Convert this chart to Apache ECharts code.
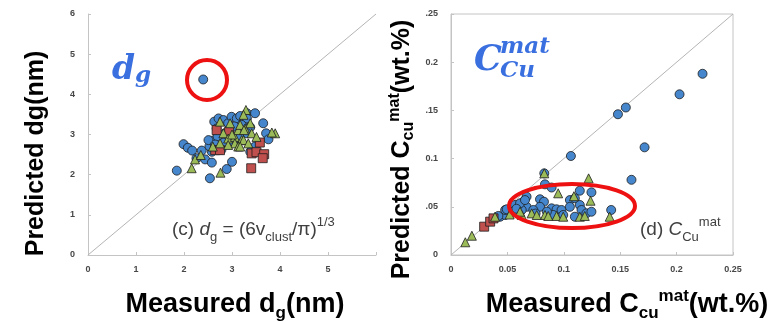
<!DOCTYPE html>
<html>
<head>
<meta charset="utf-8">
<script src="https://cdn.jsdelivr.net/npm/echarts@6/dist/echarts.min.js"></script>
<style>
  html, body { margin: 0; padding: 0; background: #fff; }
  #chart { width: 771px; height: 322px; }
</style>
</head>
<body>
<div id="chart"></div>
<script>
// (c) d_g panel: [measured, predicted] in nm
const dgBlue = [
  [2.40, 4.37],
  [1.85, 2.10], [1.99, 2.76], [2.08, 2.67], [2.17, 2.60], [2.37, 2.60], [2.26, 2.41],
  [2.44, 2.38], [2.58, 2.30], [2.54, 1.91], [2.89, 2.14], [3.00, 2.32], [2.58, 2.57],
  [2.53, 2.71], [2.61, 2.85], [2.63, 3.32], [2.72, 3.40], [2.68, 3.15], [2.82, 3.36],
  [2.92, 3.28], [2.99, 3.44], [3.10, 3.40], [3.17, 3.46], [3.27, 3.36], [3.31, 3.53],
  [2.51, 2.86], [2.82, 2.80], [3.03, 2.82], [2.85, 3.03], [3.48, 3.53], [3.31, 3.40],
  [3.65, 3.28], [3.20, 3.24], [3.38, 3.18], [3.71, 3.03], [3.76, 2.88], [3.31, 3.03],
  [3.48, 2.70], [3.38, 2.57], [2.70, 2.95], [2.95, 3.10], [3.05, 3.20], [2.78, 2.62],
  [3.15, 2.95], [2.65, 2.75]
];
const dgRed = [
  [2.68, 3.11], [2.94, 3.07], [2.65, 2.61], [2.75, 2.61], [3.58, 2.80],
  [3.41, 2.53], [3.51, 2.56], [3.67, 2.51], [3.64, 2.41], [3.40, 2.16]
];
const dgGreen = [
  [2.16, 2.16], [2.76, 2.05], [2.23, 2.38], [2.35, 2.49], [2.75, 3.32], [2.96, 3.28],
  [2.82, 3.03], [2.75, 2.78], [2.92, 2.90], [3.06, 2.94], [3.13, 3.11], [3.06, 2.78],
  [3.20, 2.86], [3.17, 3.24], [3.27, 3.15], [2.92, 2.74], [3.13, 2.70], [3.29, 3.61],
  [3.90, 3.03], [3.83, 3.05], [3.24, 3.49], [3.38, 3.28], [3.25, 3.11], [3.41, 3.03],
  [3.24, 2.86], [3.34, 2.78], [3.51, 2.94], [3.17, 2.70], [2.60, 2.70], [3.00, 3.00]
];
const dgDiagonal = [[0, 0], [6, 6]];
const dgXTicks = ['0', '1', '2', '3', '4', '5', ''];
const dgYTicks = ['0', '1', '2', '3', '4', '5', '6'];

// (d) C_Cu^mat panel: [measured, predicted] in wt.%
const cuBlue = [
  [0.223, 0.188], [0.2026, 0.1667], [0.1716, 0.1117], [0.160, 0.078], [0.148, 0.146],
  [0.155, 0.153], [0.1063, 0.1027], [0.0827, 0.0847], [0.0833, 0.0733], [0.0892, 0.070],
  [0.1142, 0.0667], [0.1245, 0.065], [0.1054, 0.057], [0.1098, 0.0588], [0.0789, 0.0578],
  [0.0824, 0.0553], [0.067, 0.0605], [0.0642, 0.0553], [0.067, 0.050], [0.0789, 0.050],
  [0.0892, 0.0484], [0.0936, 0.0474], [0.098, 0.0467], [0.0906, 0.0415], [0.0995, 0.0415],
  [0.1054, 0.050], [0.1142, 0.0519], [0.1157, 0.0467], [0.120, 0.0432], [0.1245, 0.0449],
  [0.1098, 0.0397], [0.142, 0.0467], [0.073, 0.0467], [0.0627, 0.0467], [0.0435, 0.0397],
  [0.048, 0.0415], [0.048, 0.0467], [0.042, 0.0405], [0.0494, 0.0474], [0.0553, 0.0449],
  [0.0568, 0.0519], [0.0612, 0.0536], [0.0656, 0.057], [0.058, 0.048], [0.085, 0.045],
  [0.075, 0.043]
];
const cuGreen = [
  [0.0127, 0.0132], [0.0185, 0.020], [0.039, 0.0397], [0.0827, 0.0847], [0.122, 0.0795],
  [0.095, 0.064], [0.109, 0.061], [0.1237, 0.0563], [0.1407, 0.0397], [0.0715, 0.0432],
  [0.0833, 0.0415], [0.0862, 0.0405], [0.0936, 0.0405], [0.0995, 0.0397], [0.1142, 0.0397],
  [0.1186, 0.0405], [0.0627, 0.0415], [0.076, 0.0415], [0.0612, 0.0449], [0.052, 0.042]
];
const cuRed = [[0.0294, 0.0294], [0.0347, 0.0346], [0.0377, 0.038]];
const cuDiagonal = [[0, 0], [0.25, 0.25]];
const cuXTicks = ['0', '0.05', '0.1', '0.15', '0.2', '0.25'];
const cuYTicks = ['0', '.05', '0.1', '.15', '0.2', '.25'];

const BLUE = '#4586cc', RED = '#c0504d', GREEN = '#9bbb59';
const AXIS_GRAY = '#c4c4c4';
const SANS = '"Liberation Sans", Arial, sans-serif';
const SERIF = '"DejaVu Serif", serif';
const NOTE = '#404040';
const SYMBOL_BLUE = '#3a6fe0';

const tickLabel = {
  color: '#474747', fontSize: 9, fontWeight: 'bold', fontFamily: SANS
};

function axisBase(extra) {
  return Object.assign({
    type: 'value',
    splitLine: { show: false },
    axisLine: { show: true, lineStyle: { color: AXIS_GRAY, width: 1 } },
    axisTick: { show: true, inside: true, length: 3, lineStyle: { color: AXIS_GRAY } }
  }, extra);
}

const titleRich = {
  m: { fontSize: 27, fontWeight: 'bold', fontFamily: SANS, color: '#000', lineHeight: 34 },
  sub: { fontSize: 17, fontWeight: 'bold', fontFamily: SANS, color: '#000', lineHeight: 16, verticalAlign: 'bottom' },
  sup: { fontSize: 17, fontWeight: 'bold', fontFamily: SANS, color: '#000', lineHeight: 16, verticalAlign: 'top' }
};
const vTitleRich = {
  m: { fontSize: 25, fontWeight: 'bold', fontFamily: SANS, color: '#000', lineHeight: 30 },
  sub: { fontSize: 16, fontWeight: 'bold', fontFamily: SANS, color: '#000', lineHeight: 14, verticalAlign: 'bottom' },
  sup: { fontSize: 16, fontWeight: 'bold', fontFamily: SANS, color: '#000', lineHeight: 14, verticalAlign: 'top' }
};
const captionRich = {
  t: { fontSize: 19, fontFamily: SANS, fill: NOTE, lineHeight: 28 },
  i: { fontSize: 19, fontFamily: SANS, fontStyle: 'italic', fill: NOTE, lineHeight: 28 },
  s: { fontSize: 13, fontFamily: SANS, fill: NOTE, lineHeight: 12, verticalAlign: 'bottom' },
  p: { fontSize: 13, fontFamily: SANS, fill: NOTE, lineHeight: 12, verticalAlign: 'top' }
};

function scatter(name, data, symbol, color, xi, size) {
  return {
    name: name, type: 'scatter', xAxisIndex: xi, yAxisIndex: xi,
    data: data, symbol: symbol, symbolSize: size,
    itemStyle: { color: color, borderColor: '#1e1e1e', borderWidth: 0.8, opacity: 1 },
    z: 3
  };
}
function diagonal(data, xi) {
  return {
    type: 'line', xAxisIndex: xi, yAxisIndex: xi, data: data,
    symbol: 'none', silent: true, z: 1,
    lineStyle: { color: '#b4b4b4', width: 1 }
  };
}

const chart = echarts.init(document.getElementById('chart'));
chart.setOption({
  backgroundColor: '#fff',
  animation: false,
  grid: [
    { left: 88, top: 14, width: 288, height: 241, outerBoundsMode: 'none', containLabel: false },
    { left: 451, top: 14, width: 282, height: 241, outerBoundsMode: 'none', containLabel: false,
      show: true, borderColor: AXIS_GRAY, borderWidth: 1 }
  ],
  xAxis: [
    axisBase({
      gridIndex: 0, min: 0, max: 6, interval: 1,
      axisLabel: Object.assign({ margin: 10, formatter: (v) => dgXTicks[Math.round(v)] }, tickLabel),
      name: '{m|Measured d}{sub|g}{m|(nm)}', nameLocation: 'middle', nameGap: 33,
      nameTextStyle: { rich: titleRich, padding: [0, 0, 0, 6] }
    }),
    axisBase({
      gridIndex: 1, min: 0, max: 0.25, interval: 0.05,
      axisLabel: Object.assign({ margin: 10, formatter: (v) => cuXTicks[Math.round(v / 0.05)] }, tickLabel),
      name: '{m|Measured C}{sub|cu}{sup|mat}{m|(wt.%)}', nameLocation: 'middle', nameGap: 33,
      nameTextStyle: { rich: titleRich, padding: [0, 0, 0, 70] }
    })
  ],
  yAxis: [
    axisBase({
      gridIndex: 0, min: 0, max: 6, interval: 1,
      axisLabel: Object.assign({ margin: 13, formatter: (v) => dgYTicks[Math.round(v)] }, tickLabel),
      name: '{m|Predicted dg(nm)}', nameLocation: 'middle', nameGap: 37, nameRotate: 90,
      nameTextStyle: { rich: vTitleRich, padding: [0, 38, 0, 0] }
    }),
    axisBase({
      gridIndex: 1, min: 0, max: 0.25, interval: 0.05,
      axisLabel: Object.assign({ margin: 13, formatter: (v) => cuYTicks[Math.round(v / 0.05)] }, tickLabel),
      name: '{m|Predicted C}{sub|cu}{sup|mat}{m|(wt.%)}', nameLocation: 'middle', nameGap: 34, nameRotate: 90,
      nameTextStyle: { rich: vTitleRich, padding: [0, 30, 0, 0] }
    })
  ],
  series: [
    diagonal(dgDiagonal, 0),
    scatter('blue', dgBlue, 'circle', BLUE, 0, 9),
    scatter('red', dgRed, 'rect', RED, 0, 9),
    scatter('green', dgGreen, 'triangle', GREEN, 0, 9),
    diagonal(cuDiagonal, 1),
    scatter('blue', cuBlue, 'circle', BLUE, 1, 9),
    scatter('red', cuRed, 'rect', RED, 1, 9),
    scatter('green', cuGreen, 'triangle', GREEN, 1, 9)
  ],
  graphic: [
    // red highlight around the outlier and the under-predicted cluster
    { type: 'circle', shape: { cx: 207, cy: 80, r: 20 }, z: 10,
      style: { fill: 'none', stroke: '#ee1111', lineWidth: 4 } },
    { type: 'ellipse', shape: { cx: 572, cy: 206, rx: 63, ry: 22 }, z: 10,
      style: { fill: 'none', stroke: '#ee1111', lineWidth: 4 } },
    // blue panel symbols
    { type: 'text', left: 112, top: 54, z: 10,
      style: {
        text: '{d|d}{g|g}',
        rich: {
          d: { fontSize: 33, fontStyle: 'italic', fontWeight: 'bold', fontFamily: SERIF, fill: SYMBOL_BLUE, lineHeight: 34, verticalAlign: 'top' },
          g: { fontSize: 23, fontStyle: 'italic', fontWeight: 'bold', fontFamily: SERIF, fill: SYMBOL_BLUE, lineHeight: 22, verticalAlign: 'bottom' }
        }
      } },
    { type: 'text', left: 474, top: 43, z: 10,
      style: { text: 'C', fontSize: 35, fontStyle: 'italic', fontWeight: 'bold', fontFamily: SERIF, fill: SYMBOL_BLUE } },
    { type: 'text', left: 500, top: 36, z: 10,
      style: { text: 'mat', fontSize: 23, fontStyle: 'italic', fontWeight: 'bold', fontFamily: SERIF, fill: SYMBOL_BLUE } },
    { type: 'text', left: 500, top: 60, z: 10,
      style: { text: 'Cu', fontSize: 23, fontStyle: 'italic', fontWeight: 'bold', fontFamily: SERIF, fill: SYMBOL_BLUE } },
    // panel captions
    { type: 'text', left: 172, top: 216, z: 10,
      style: { text: '{t|(c) }{i|d}{s|g}{t| = (6v}{s|clust}{t|/π)}{p|1/3}', rich: captionRich } },
    { type: 'text', left: 640, top: 216, z: 10,
      style: { text: '{t|(d) }{i|C}{s|Cu}{p|mat}', rich: captionRich } }
  ]
});
</script>
</body>
</html>
